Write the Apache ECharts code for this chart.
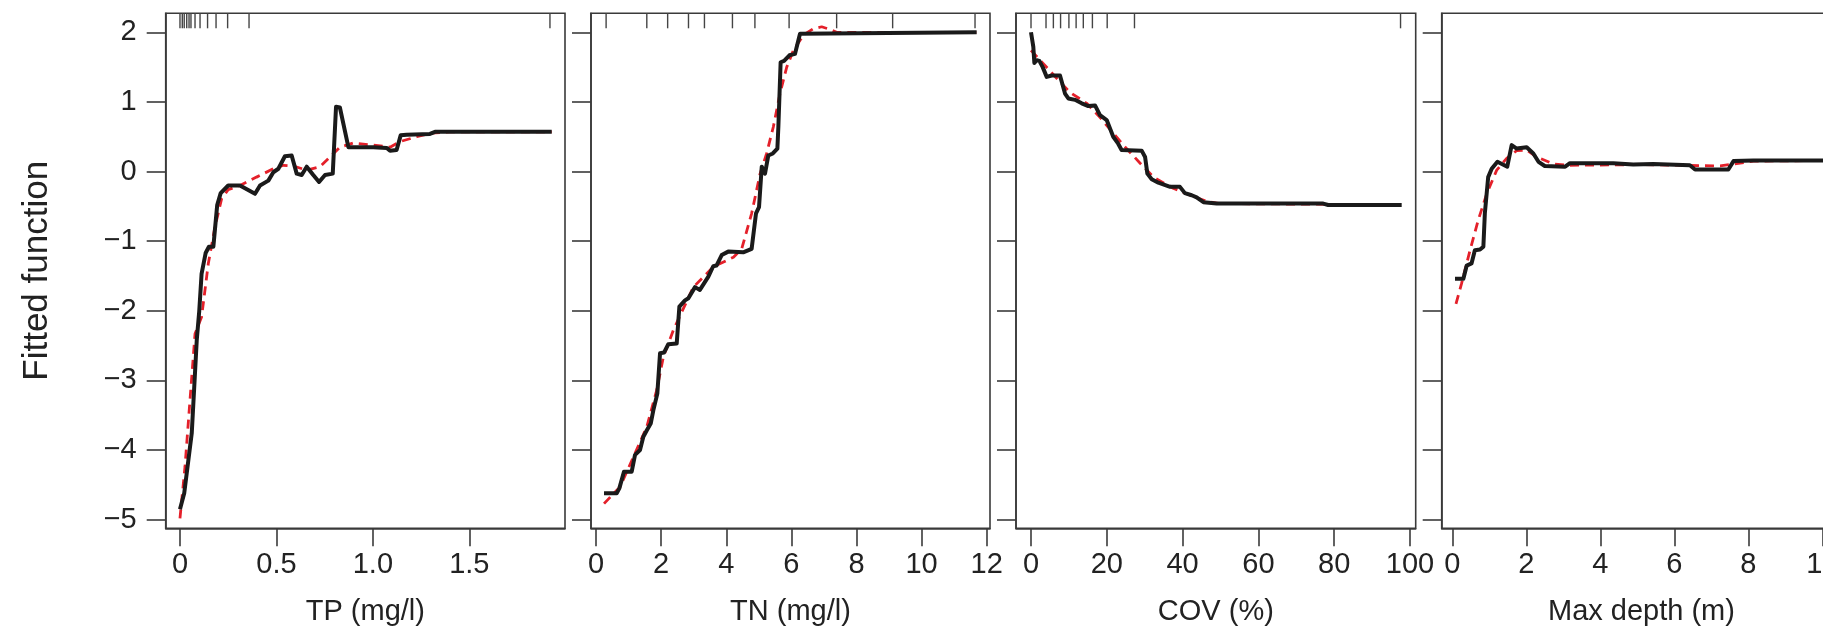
<!DOCTYPE html>
<html>
<head>
<meta charset="utf-8">
<title>Fitted functions</title>
<script src="https://cdn.jsdelivr.net/npm/echarts@6/dist/echarts.min.js"></script>
<style>
  html, body { margin: 0; padding: 0; background: #fff; }
  #chart { width: 1823px; height: 628px; }
</style>
</head>
<body>
<div id="chart"></div>
<script>
// fitted function (black) and smoothed fit (red dashed)
const tpFitted = [[0.0,-4.85],[0.022,-4.62],[0.061,-3.76],[0.087,-2.42],[0.10,-2.0],[0.112,-1.47],[0.133,-1.17],[0.15,-1.08],[0.173,-1.08],[0.193,-0.48],[0.211,-0.31],[0.25,-0.2],[0.311,-0.2],[0.389,-0.32],[0.415,-0.2],[0.458,-0.13],[0.484,-0.01],[0.51,0.04],[0.544,0.22],[0.579,0.23],[0.605,-0.03],[0.631,-0.05],[0.657,0.07],[0.691,-0.05],[0.721,-0.15],[0.752,-0.05],[0.792,-0.03],[0.809,0.93],[0.829,0.92],[0.873,0.35],[1.002,0.35],[1.072,0.34],[1.089,0.3],[1.123,0.31],[1.144,0.52],[1.175,0.53],[1.296,0.54],[1.322,0.57],[1.927,0.57]];
const tpSmooth = [[0.0,-4.98],[0.026,-4.24],[0.052,-3.28],[0.078,-2.33],[0.112,-2.09],[0.147,-1.32],[0.181,-0.8],[0.216,-0.39],[0.25,-0.26],[0.311,-0.2],[0.397,-0.08],[0.484,0.04],[0.536,0.09],[0.588,0.08],[0.657,0.02],[0.726,0.07],[0.778,0.21],[0.829,0.35],[0.898,0.41],[1.002,0.38],[1.089,0.35],[1.14,0.43],[1.227,0.5],[1.296,0.55],[1.4,0.57],[1.927,0.57]];
const tnFitted = [[0.246,-4.62],[0.635,-4.62],[0.716,-4.55],[0.86,-4.31],[1.096,-4.31],[1.198,-4.07],[1.351,-4.0],[1.453,-3.81],[1.557,-3.72],[1.68,-3.62],[1.76,-3.43],[1.883,-3.19],[1.966,-2.61],[2.088,-2.6],[2.22,-2.48],[2.478,-2.47],[2.56,-1.94],[2.733,-1.85],[2.836,-1.82],[3.04,-1.66],[3.19,-1.7],[3.45,-1.51],[3.6,-1.36],[3.7,-1.35],[3.86,-1.2],[4.06,-1.15],[4.52,-1.16],[4.78,-1.11],[4.914,-0.6],[5.006,-0.51],[5.09,0.07],[5.19,-0.03],[5.29,0.23],[5.43,0.26],[5.57,0.33],[5.6,0.64],[5.67,1.57],[5.775,1.59],[5.94,1.67],[6.11,1.69],[6.265,1.98],[6.32,2.0],[11.69,2.0]];
const tnSmooth = [[0.246,-4.77],[0.737,-4.53],[1.147,-4.1],[1.557,-3.67],[1.864,-3.14],[2.07,-2.66],[2.374,-2.28],[2.63,-2.02],[2.99,-1.66],[3.6,-1.37],[4.22,-1.23],[4.475,-1.11],[4.78,-0.6],[5.04,-0.03],[5.24,0.26],[5.445,0.64],[5.65,1.12],[5.857,1.5],[6.06,1.74],[6.37,1.96],[6.67,2.05],[6.93,2.08],[7.19,2.04],[7.39,2.0],[11.69,2.0]];
const covFitted = [[0,2.0],[0.61,1.79],[0.88,1.56],[1.5,1.6],[2.2,1.59],[3.08,1.5],[4.14,1.36],[5.46,1.38],[7.65,1.38],[8.97,1.12],[9.85,1.05],[11.61,1.03],[13.38,0.98],[15.12,0.94],[16.89,0.95],[18.2,0.81],[19.97,0.74],[21.7,0.5],[23.0,0.4],[23.9,0.31],[29.2,0.3],[30.1,0.21],[30.7,-0.03],[31.85,-0.11],[33.6,-0.16],[36.7,-0.22],[39.3,-0.22],[40.6,-0.31],[42.4,-0.34],[43.7,-0.37],[45.5,-0.44],[49.0,-0.46],[62.2,-0.46],[77.1,-0.46],[78.4,-0.48],[97.8,-0.48]];
const covSmooth = [[0,1.74],[3.25,1.55],[6.78,1.34],[10.2,1.14],[14.7,0.98],[18.2,0.78],[21.7,0.55],[25.2,0.33],[28.8,0.12],[32.3,-0.08],[37.5,-0.24],[42.0,-0.34],[46.4,-0.43],[49.9,-0.46],[78.4,-0.47],[97.8,-0.48]];
const depthFitted = [[0.073,-1.54],[0.30,-1.54],[0.39,-1.35],[0.52,-1.32],[0.61,-1.13],[0.75,-1.12],[0.84,-1.08],[0.88,-0.6],[0.97,-0.08],[1.065,0.04],[1.22,0.14],[1.486,0.07],[1.605,0.38],[1.74,0.33],[2.01,0.35],[2.19,0.26],[2.33,0.14],[2.5,0.08],[3.05,0.07],[3.18,0.12],[4.35,0.12],[4.89,0.1],[5.43,0.11],[6.42,0.09],[6.56,0.03],[7.46,0.03],[7.6,0.15],[8.14,0.16],[10.3,0.16]];
const depthSmooth = [[0.1,-1.9],[0.25,-1.61],[0.48,-1.13],[0.70,-0.7],[0.93,-0.32],[1.2,0.02],[1.47,0.19],[1.74,0.3],[2.01,0.31],[2.28,0.21],[2.73,0.11],[3.18,0.09],[5.0,0.1],[7.24,0.08],[8.14,0.15],[10.3,0.16]];

// rug marks (deciles) along the top edge
const tpRug = [0.0, 0.012, 0.022, 0.035, 0.047, 0.057, 0.078, 0.104, 0.143, 0.187, 0.247, 0.358, 1.918];
const tnRug = [0.31, 1.56, 2.20, 2.84, 3.33, 4.19, 4.88, 5.93, 7.39, 9.11, 11.64];
const covRug = [0, 3.96, 5.9, 7.8, 10.0, 11.9, 13.8, 16.2, 20.1, 27.3, 97.5];

// axis ticks
const yTicks = [-5, -4, -3, -2, -1, 0, 1, 2];
const tpTicks = [0, 0.5, 1, 1.5];
const tnTicks = [0, 2, 4, 6, 8, 10, 12];
const covTicks = [0, 20, 40, 60, 80, 100];
const depthTicks = [0, 2, 4, 6, 8, 10];

const yMin = -5.124, yMax = 2.273;
const fontFamily = '"Liberation Sans", Arial, sans-serif';
const ink = '#222';
const frame = '#3a3a3a';

const panels = [
  {left: 165.7, width: 399.3, min: -0.074, max: 1.996, ticks: tpTicks, name: 'TP (mg/l)', fitted: tpFitted, smooth: tpSmooth, rug: tpRug,
   fmt: v => v === 0 ? '0' : v.toFixed(1)},
  {left: 591, width: 399, min: -0.154, max: 12.10, ticks: tnTicks, name: 'TN (mg/l)', fitted: tnFitted, smooth: tnSmooth, rug: tnRug},
  {left: 1016, width: 399.7, min: -3.96, max: 101.5, ticks: covTicks, name: 'COV (%)', fitted: covFitted, smooth: covSmooth, rug: covRug},
  {left: 1441.7, width: 399.5, min: -0.286, max: 10.51, ticks: depthTicks, name: 'Max depth (m)', fitted: depthFitted, smooth: depthSmooth, rug: []}
];

const chart = echarts.init(document.getElementById('chart'));

const grid = [], xAxis = [], yAxis = [], series = [];
panels.forEach((p, i) => {
  grid.push({left: p.left, top: 13.3, width: p.width, height: 515, show: true,
    borderColor: frame, borderWidth: 1.6, backgroundColor: 'transparent',
    containLabel: false, outerBoundsMode: 'none'});
  xAxis.push({
    type: 'value', gridIndex: i, min: p.min, max: p.max,
    name: p.name, nameLocation: 'middle', nameGap: 69,
    nameTextStyle: {fontFamily, fontSize: 29, color: ink},
    axisLine: {show: true, onZero: false, lineStyle: {color: frame, width: 1.6}},
    axisTick: {show: true, length: 18, customValues: p.ticks, lineStyle: {color: frame, width: 1.6}},
    axisLabel: {show: true, customValues: p.ticks, margin: 22, fontFamily, fontSize: 29, color: ink,
      formatter: p.fmt || (v => String(v))},
    splitLine: {show: false}
  });
  yAxis.push({
    type: 'value', gridIndex: i, min: yMin, max: yMax,
    name: i === 0 ? 'Fitted function' : '', nameLocation: 'middle', nameGap: 111,
    nameTextStyle: {fontFamily, fontSize: 35, color: ink},
    axisLine: {show: true, onZero: false, lineStyle: {color: frame, width: 1.6}},
    axisTick: {show: true, length: 19, customValues: yTicks, lineStyle: {color: frame, width: 1.6}},
    axisLabel: {show: i === 0, customValues: yTicks, margin: 29, fontFamily, fontSize: 29, color: ink,
      formatter: v => String(v).replace('-', '\u2212')},
    splitLine: {show: false}
  });
  series.push({
    type: 'line', xAxisIndex: i, yAxisIndex: i, data: p.smooth, showSymbol: false, z: 2,
    lineStyle: {color: '#e4202a', width: 2.8, type: [9, 6]}, silent: true
  });
  series.push({
    type: 'line', xAxisIndex: i, yAxisIndex: i, data: p.fitted, showSymbol: false, z: 3,
    lineStyle: {color: '#1a1a1a', width: 4, join: 'round'}, silent: true
  });
  if (p.rug.length) {
    series.push({
      type: 'custom', xAxisIndex: i, yAxisIndex: i, data: p.rug.map(v => [v]), z: 4, silent: true,
      renderItem: (params, api) => {
        const pt = api.coord([api.value(0), yMax]);
        return {type: 'line', shape: {x1: pt[0], y1: pt[1], x2: pt[0], y2: pt[1] + 15},
          style: {stroke: '#444', lineWidth: 1.4}};
      }
    });
  }
});

chart.setOption({
  animation: false,
  backgroundColor: '#fff',
  grid, xAxis, yAxis, series
});
</script>
</body>
</html>
